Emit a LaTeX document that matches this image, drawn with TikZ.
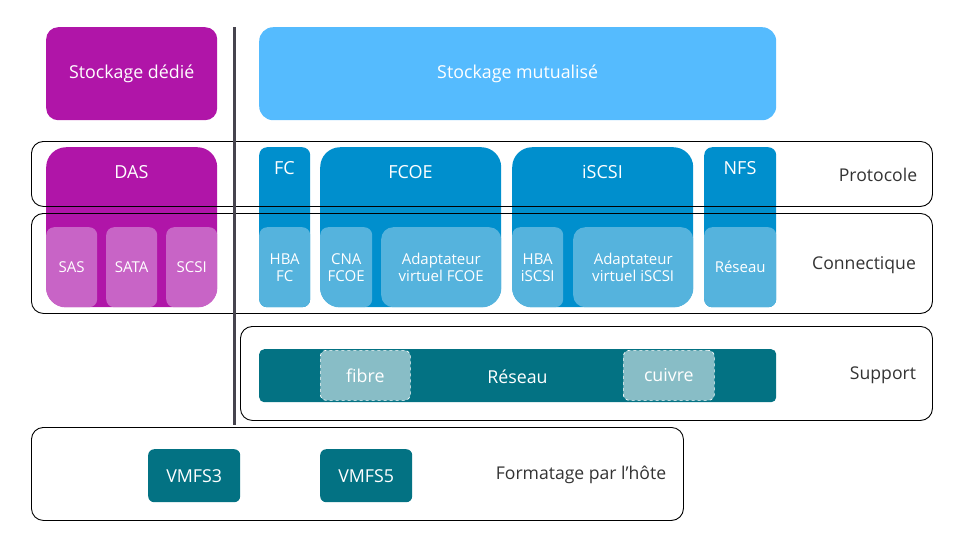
\documentclass[tikz,border=0pt]{standalone}
\usepackage{fontspec}
\setmainfont{Open Sans}
\definecolor{cpurple}{HTML}{B015A8}
\definecolor{clpurple}{HTML}{C864C6}
\definecolor{csky}{HTML}{55BBFE}
\definecolor{cblue}{HTML}{008FCD}
\definecolor{clblue}{HTML}{55B3DD}
\definecolor{cteal}{HTML}{037283}
\definecolor{clteal}{HTML}{88BDC6}
\definecolor{cline}{HTML}{46444E}
\definecolor{clabel}{HTML}{333333}
\begin{document}
\begin{tikzpicture}[x=1pt,y=-1pt,
  blk/.style={draw=none, inner sep=0pt, anchor=north west, text=white, align=center},
  big/.style={font=\fontsize{17.8}{20}\selectfont},
  small/.style={font=\fontsize{15}{17}\selectfont},
  ttl/.style={text=white, inner sep=0pt, font=\fontsize{18}{20}\selectfont},
  row/.style={draw=black, line width=0.9pt, rounded corners=12pt, inner sep=0pt, anchor=north west},
  rowlabel/.style={text=clabel, inner sep=0pt, font=\fontsize{17.6}{20}\selectfont}]
\useasboundingbox (0,0) rectangle (968,542);

% top
\node[blk, big, fill=cpurple, rounded corners=12pt, minimum width=171pt, minimum height=93pt] (ded) at (46,27) {Stockage dédié};
\node[blk, big, fill=csky, rounded corners=14pt, minimum width=517pt, minimum height=93pt] (mut) at (259,27) {Stockage mutualisé};

% DAS
\node[blk, fill=cpurple, rounded corners=20pt, minimum width=171pt, minimum height=160pt] (das) at (46,147) {};
\node[ttl] (dast) at (131.5,172) {DAS};
\begin{scope}
\clip[rounded corners=20pt] (das.north west) rectangle (das.south east);
\node[blk, small, fill=clpurple, rounded corners=8pt, minimum width=51pt, minimum height=80pt] (sas) at (46,227) {SAS};
\node[blk, small, fill=clpurple, rounded corners=8pt, minimum width=51pt, minimum height=80pt] (sata) at (106,227) {SATA};
\node[blk, small, fill=clpurple, rounded corners=8pt, minimum width=51pt, minimum height=80pt] (scsi) at (166,227) {SCSI};
\end{scope}

% FC
\node[blk, fill=cblue, rounded corners=8pt, minimum width=51pt, minimum height=160pt] (fc) at (259,147) {};
\node[ttl] (fct) at (284.5,168) {FC};
\node[blk, small, fill=clblue, rounded corners=8pt, minimum width=51pt, minimum height=80pt] (hbafc) at (259,227) {HBA\\FC};

% FCOE
\node[blk, fill=cblue, rounded corners=20pt, minimum width=181pt, minimum height=160pt] (fcoe) at (320,147) {};
\node[ttl] (fcoet) at (410.5,172) {FCOE};
\begin{scope}
\clip[rounded corners=20pt] (fcoe.north west) rectangle (fcoe.south east);
\node[blk, small, fill=clblue, rounded corners=8pt, minimum width=52pt, minimum height=80pt] (cna) at (320,227) {CNA\\FCOE};
\node[blk, small, fill=clblue, rounded corners=12pt, minimum width=120pt, minimum height=80pt] (avfcoe) at (381,227) {Adaptateur\\virtuel FCOE};
\end{scope}

% iSCSI
\node[blk, fill=cblue, rounded corners=20pt, minimum width=181pt, minimum height=160pt] (iscsi) at (512,147) {};
\node[ttl] (iscsit) at (602.5,172) {iSCSI};
\begin{scope}
\clip[rounded corners=20pt] (iscsi.north west) rectangle (iscsi.south east);
\node[blk, small, fill=clblue, rounded corners=8pt, minimum width=51pt, minimum height=80pt] (hbai) at (512,227) {HBA\\iSCSI};
\node[blk, small, fill=clblue, rounded corners=12pt, minimum width=120pt, minimum height=80pt] (avi) at (573,227) {Adaptateur\\virtuel iSCSI};
\end{scope}

% NFS
\node[blk, fill=cblue, rounded corners=8pt, minimum width=72pt, minimum height=160pt] (nfs) at (704,147) {};
\node[ttl] (nfst) at (740,168) {NFS};
\node[blk, small, fill=clblue, rounded corners=8pt, minimum width=72pt, minimum height=80pt] (res) at (704,227) {Réseau};

% Support
\node[blk, fill=cteal, rounded corners=5pt, minimum width=517pt, minimum height=53pt] (net) at (259,349) {};
\node[ttl, font=\fontsize{17.8}{20}\selectfont] (nett) at (517.5,377) {Réseau};
\node[blk, big, fill=clteal, draw=white, dashed, line width=0.7pt, rounded corners=6pt, minimum width=90pt, minimum height=50pt] (fib) at (320,350) {fibre};
\node[blk, big, fill=clteal, draw=white, dashed, line width=0.7pt, rounded corners=6pt, minimum width=91pt, minimum height=50pt] (cuiv) at (623,350) {cuivre};

% VMFS
\node[blk, big, fill=cteal, rounded corners=6pt, minimum width=92pt, minimum height=53pt] (v3) at (148,449) {VMFS3};
\node[blk, big, fill=cteal, rounded corners=6pt, minimum width=92pt, minimum height=53pt] (v5) at (320,449) {VMFS5};

% row outlines
\node[row, minimum width=901pt, minimum height=65pt] (rprot) at (31,141) {};
\node[row, minimum width=901pt, minimum height=100pt] (rconn) at (31,213) {};
\node[row, minimum width=692pt, minimum height=94pt] (rsup) at (240,326) {};
\node[row, minimum width=652pt, minimum height=93pt] (rfmt) at (31,427) {};

\node[rowlabel] (lprot) at (878,175) {Protocole};
\node[rowlabel] (lconn) at (864,265) {Connectique};
\node[rowlabel] (lsup) at (883,375) {Support};
\node[rowlabel] (lfmt) at (581,475) {Formatage par l’hôte};

% separator
\coordinate (sepa) at (234,27);
\coordinate (sepb) at (234,425);
\draw[cline, line width=3pt] (sepa) -- (sepb);
\end{tikzpicture}
\end{document}
